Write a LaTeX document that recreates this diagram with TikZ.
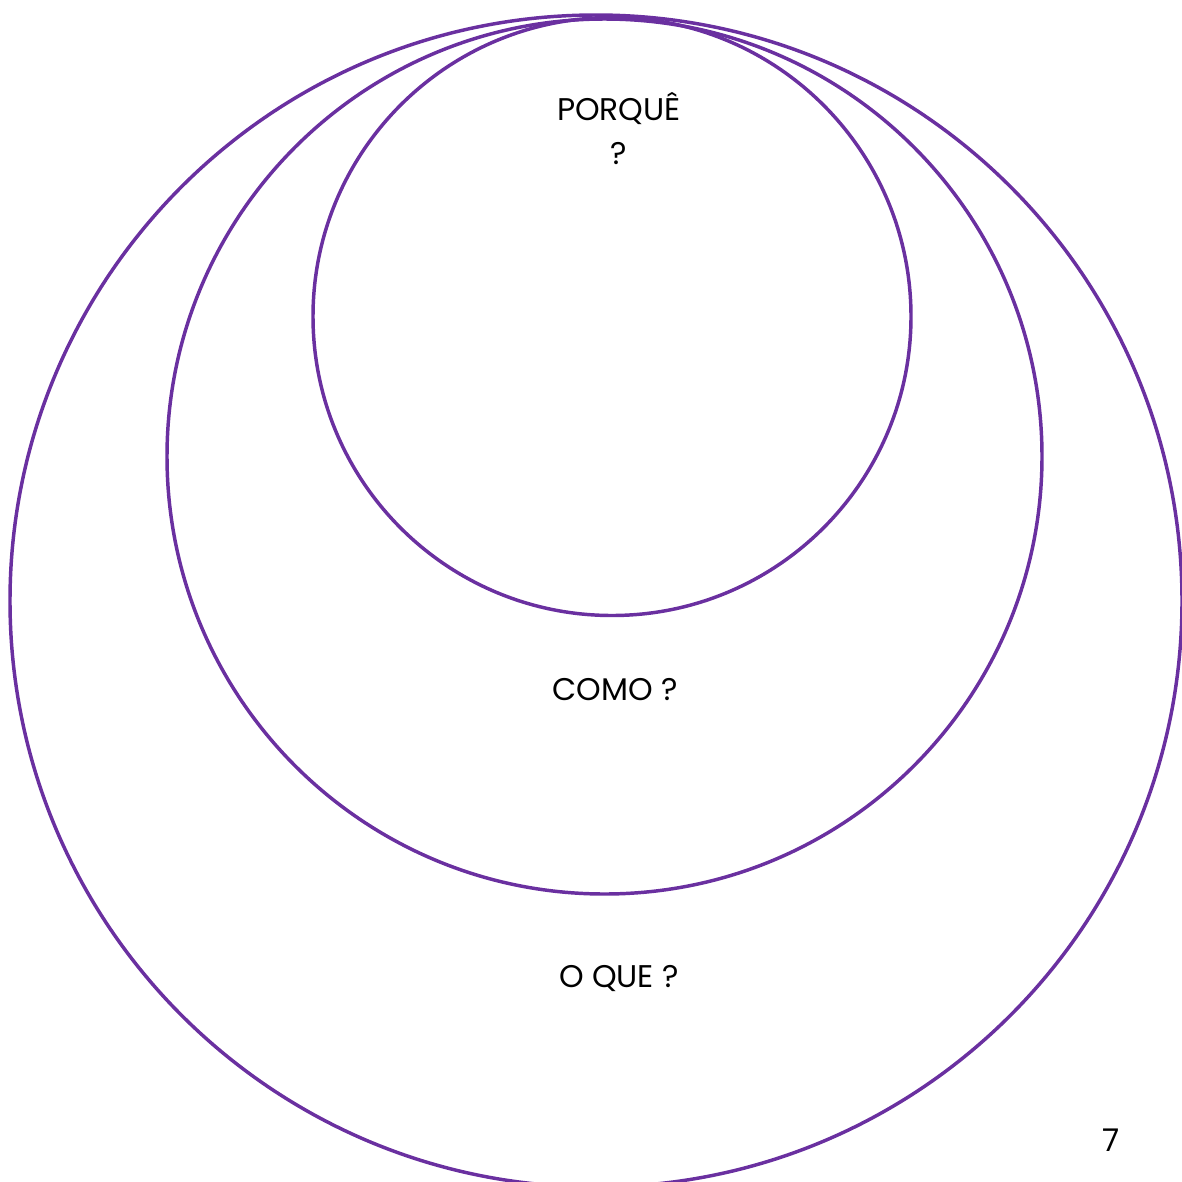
\documentclass[tikz,border=0pt]{standalone}
\usepackage{fontspec}
\setmainfont{Poppins}
\usepackage{xcolor}

\begin{document}
\begin{tikzpicture}[x=0.75pt,y=0.75pt,yscale=-1,xscale=1]
\useasboundingbox (0,0) rectangle (1182,1182);
\clip (0,0) rectangle (1182,1182);

%Shape: Circle [outer]
\draw [color={rgb, 255:red, 106; green, 48; blue, 160 }  ,draw opacity=1 ][line width=2.6]  (596,601) circle (586);
%Shape: Circle [middle]
\draw [color={rgb, 255:red, 106; green, 48; blue, 160 }  ,draw opacity=1 ][line width=2.6]  (604.5,456.5) circle (437.5);
%Shape: Circle [inner]
\draw [color={rgb, 255:red, 106; green, 48; blue, 160 }  ,draw opacity=1 ][line width=2.6]  (612,316.5) circle (299);

% Text Node
\node (porque) at (619,129) [inner sep=0.75pt, align=center, font=\fontsize{23.5}{33}\selectfont] {PORQUÊ\\?};
% Text Node
\node (como) at (615,690) [inner sep=0.75pt, font=\fontsize{23.5}{33}\selectfont] {COMO ?};
% Text Node
\node (oque) at (619,978) [inner sep=0.75pt, font=\fontsize{23.5}{33}\selectfont] {O QUE ?};
% Text Node
\node (pagina) at (1111,1140) [inner sep=0.75pt, font=\fontsize{23.5}{33}\selectfont] {7};

\end{tikzpicture}
\end{document}
